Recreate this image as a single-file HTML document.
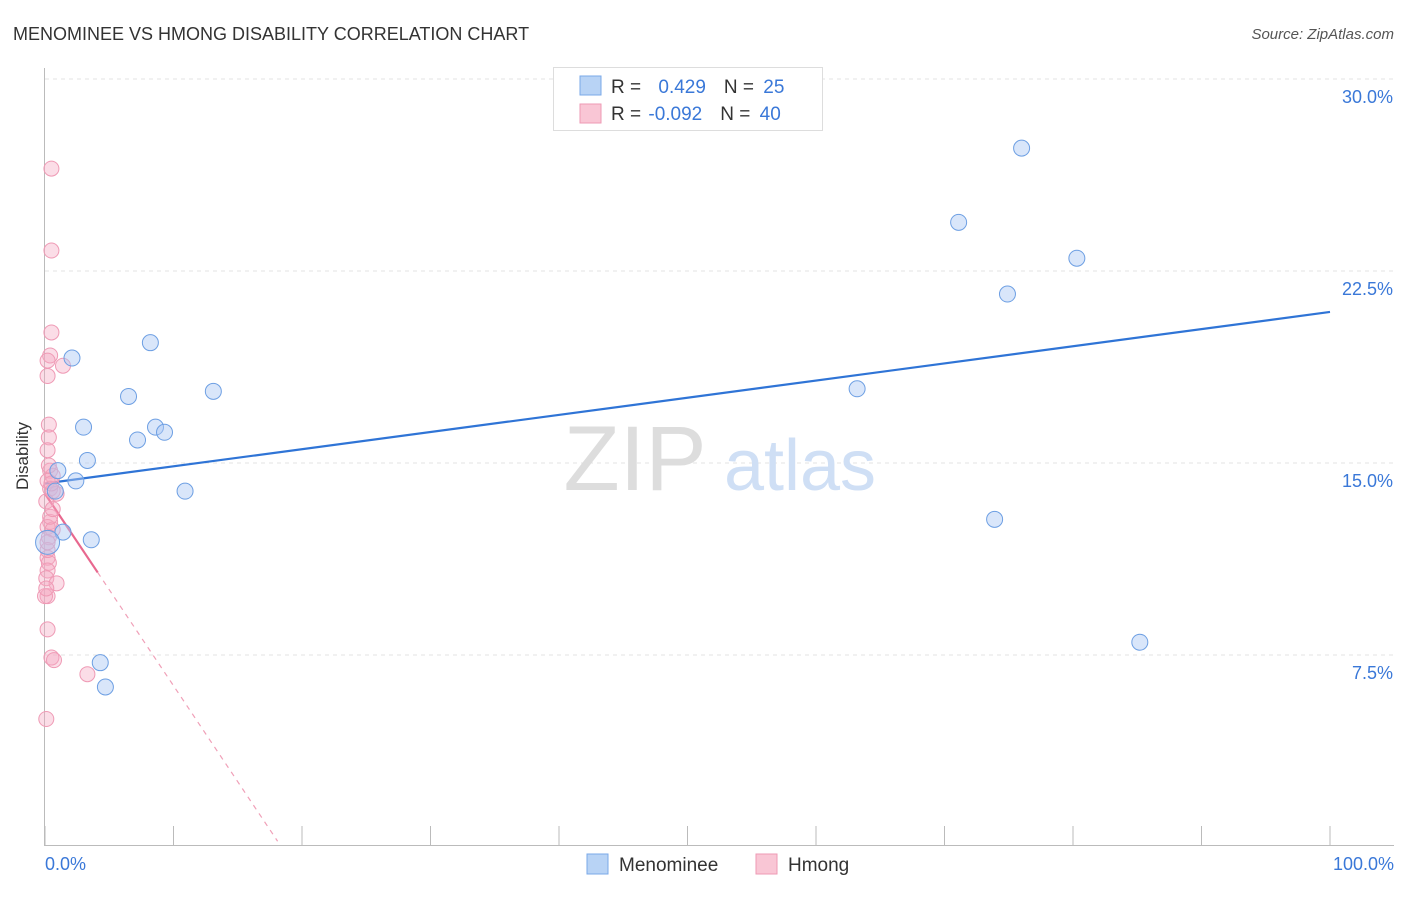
<!DOCTYPE html>
<html><head><meta charset="utf-8"><style>
body{margin:0;background:#fff;font-family:"Liberation Sans",sans-serif}
svg text{font-family:"Liberation Sans",sans-serif}
</style></head><body>
<svg id="c" width="1406" height="892" xmlns="http://www.w3.org/2000/svg">
<text x="13" y="40" font-size="18" fill="#333">MENOMINEE VS HMONG DISABILITY CORRELATION CHART</text>
<text x="1394" y="39" font-size="15" fill="#555" text-anchor="end" font-style="italic">Source: ZipAtlas.com</text>
<g id="grid"></g>
<g><text x="635" y="490" font-size="92" fill="#ddd" text-anchor="middle" font-family="Liberation Serif">ZIP</text><text x="800" y="490" font-size="72" fill="#cfdff5" text-anchor="middle">atlas</text></g>
<g id="axes"></g>
<g id="marks"></g>
<text x="28" y="456" font-size="17" fill="#333" text-anchor="middle" transform="rotate(-90 28 456)">Disability</text>
<text x="45" y="870" font-size="18" fill="#3a78d8">0.0%</text>
<text x="1394" y="870" font-size="18" fill="#3a78d8" text-anchor="end">100.0%</text>
<g>
<rect x="553.5" y="67.5" width="269" height="63" fill="#fff" stroke="#ddd"/>
<rect x="580" y="76" width="21" height="19" fill="#b8d3f5" stroke="#7aa8e8"/>
<rect x="580" y="104" width="21" height="19" fill="#f9c6d5" stroke="#ee9ab4"/>
<text x="611" y="93" font-size="19" fill="#333">R = <tspan fill="#3a78d8" dx="12">0.429</tspan><tspan dx="18" fill="#333">N = </tspan><tspan fill="#3a78d8" dx="4">25</tspan></text>
<text x="611" y="120" font-size="19" fill="#333">R = <tspan fill="#3a78d8" dx="2">-0.092</tspan><tspan dx="18" fill="#333">N = </tspan><tspan fill="#3a78d8" dx="4">40</tspan></text>
</g>
<g>
<rect x="587" y="854" width="21" height="20" fill="#b8d3f5" stroke="#7aa8e8"/>
<text x="619" y="871" font-size="19" fill="#333">Menominee</text>
<rect x="756" y="854" width="21" height="20" fill="#f9c6d5" stroke="#ee9ab4"/>
<text x="788" y="871" font-size="19" fill="#333">Hmong</text>
</g>
</svg>
<script>
const yTicks=[7.5,15,22.5,30];
const yTickLabels=["7.5%","15.0%","22.5%","30.0%"];
const xTicks=[0,10,20,30,40,50,60,70,80,90,100];
const menomineeX=[76.0,71.1,80.3,74.9,63.2,73.9,85.2,2.1,8.2,6.5,13.1,3.0,8.6,9.3,7.2,3.3,1.0,2.4,10.9,0.8,1.4,3.6,0.2,4.3,4.7];
const menomineeY=[27.3,24.4,23.0,21.6,17.9,12.8,8.0,19.1,19.7,17.6,17.8,16.4,16.4,16.2,15.9,15.1,14.7,14.3,13.9,13.9,12.3,12.0,11.9,7.2,6.25];
const hmongX=[0.5,0.5,0.5,0.4,0.2,1.4,0.2,0.3,0.3,0.2,0.4,0.6,0.2,0.4,0.9,0.6,0.4,0.2,0.6,0.2,0.3,0.2,0.1,0.9,0.2,0.0,0.2,0.5,0.7,3.3,0.1,0.3,0.1,0.5,0.2,0.4,0.1,0.3,0.6,0.2];
const hmongY=[26.5,23.3,20.1,19.2,19.0,18.8,18.4,16.5,16.0,15.5,14.7,14.5,14.3,14.0,13.8,13.9,12.7,12.5,12.4,11.3,11.1,10.8,10.5,10.3,9.8,9.8,8.5,7.4,7.3,6.75,5.0,12.1,13.5,14.2,11.6,12.9,10.1,14.9,13.2,11.9];
const menTrend=[14.2,20.9];
const hmTrend=[13.8,-0.75];
const X=v=>45+v*12.85, Y=v=>847-v*25.6;
const NS="http://www.w3.org/2000/svg";
function mk(p,t,a){const e=document.createElementNS(NS,t);for(const k in a)e.setAttribute(k,a[k]);document.getElementById(p).appendChild(e);return e;}
yTicks.forEach((t,i)=>{
 const l=mk('grid','line',{x1:45,x2:1394,y1:Y(t),y2:Y(t),stroke:'#e3e3e3','stroke-dasharray':'4,4'});
 
 
 const tx=mk('grid','text',{x:1393,y:Y(t)+24,'font-size':18,fill:'#3a78d8','text-anchor':'end'});tx.textContent=yTickLabels[i];
 
 
});
mk('axes','line',{x1:44.5,x2:44.5,y1:68,y2:846,stroke:'#bbb'});
mk('axes','line',{x1:44,x2:1394,y1:845.5,y2:845.5,stroke:'#bbb'});
xTicks.forEach(t=>{const l=mk('axes','line',{x1:X(t),x2:X(t),y1:826,y2:846,stroke:'#bbb'});
 
 });
const bl=mk('marks','line',{x1:X(0),y1:Y(menTrend[0]),x2:X(100),y2:Y(menTrend[1]),stroke:'#2f74d6','stroke-width':2.2});


const pd=mk('marks','line',{x1:X(4.1),y1:Y(hmTrend[0]+hmTrend[1]*4.1),x2:X(18.1),y2:Y(hmTrend[0]+hmTrend[1]*18.1),stroke:'#f0a0b8','stroke-width':1.2,'stroke-dasharray':'5,5'});


const ps=mk('marks','line',{x1:X(0),y1:Y(hmTrend[0]),x2:X(4.1),y2:Y(hmTrend[0]+hmTrend[1]*4.1),stroke:'#e8688f','stroke-width':2.2});


hmongX.forEach((x,i)=>{const c=mk('marks','circle',{cx:X(x),cy:Y(hmongY[i]),r:7.5,fill:'rgba(246,170,195,0.4)',stroke:'#ef9ab5','stroke-width':1});
 
 });
menomineeX.forEach((x,i)=>{const c=mk('marks','circle',{cx:X(x),cy:Y(menomineeY[i]),r:i==22?12:8,fill:'rgba(170,200,245,0.45)',stroke:'#6d9fe3','stroke-width':1});
 
 });
</script>
</body></html>
